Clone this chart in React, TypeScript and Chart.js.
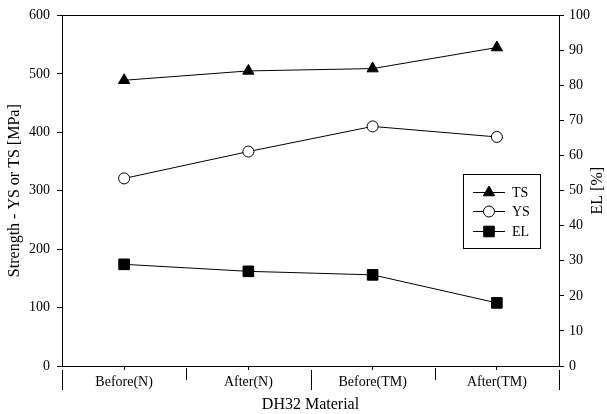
import React, { useEffect, useRef } from 'react';
import { Chart, registerables } from 'chart.js';

Chart.register(...registerables);

const categories = ['Before(N)', 'After(N)', 'Before(TM)', 'After(TM)'];
const tsValues = [489, 505, 509, 545];
const ysValues = [321, 367, 410, 392];
const elValues = [29, 27, 26, 18];
const seriesNames = ['TS', 'YS', 'EL'];
const leftRange = [0, 600, 100];
const rightRange = [0, 100, 10];
const xTitle = 'DH32 Material';
const yTitle = 'Strength - YS or TS [MPa]';
const y1Title = 'EL [%]';

const FONT = "'Liberation Serif', 'Times New Roman', serif";

function drawMarker(ctx: CanvasRenderingContext2D, style: string, x: number, y: number, r: number) {
  ctx.beginPath();
  if (style === 'triangle') {
    const w = r * Math.sin(Math.PI / 3);
    ctx.moveTo(x, y - r);
    ctx.lineTo(x + w, y + r / 2);
    ctx.lineTo(x - w, y + r / 2);
    ctx.closePath();
    ctx.fillStyle = '#000';
    ctx.fill();
    ctx.stroke();
  } else if (style === 'circle') {
    ctx.arc(x, y, r, 0, Math.PI * 2);
    ctx.fillStyle = '#fff';
    ctx.fill();
    ctx.stroke();
  } else {
    const s = r * Math.SQRT1_2;
    ctx.rect(x - s, y - s, 2 * s, 2 * s);
    ctx.fillStyle = '#000';
    ctx.fill();
    ctx.stroke();
  }
}

const decorPlugin = {
  id: 'decor',
  afterDraw(chart: any) {
    const { ctx, chartArea: a, scales } = chart;
    const xs = scales.x;
    ctx.save();
    ctx.strokeStyle = '#000';
    ctx.lineWidth = 1;
    // top frame line
    ctx.beginPath();
    ctx.moveTo(a.left, Math.round(a.top) + 0.5);
    ctx.lineTo(a.right, Math.round(a.top) + 0.5);
    ctx.stroke();
    // category separators below the axis
    for (let i = 0; i <= categories.length; i++) {
      const px = Math.round(xs.getPixelForValue(i - 0.5)) + 0.5;
      const long = i % 2 === 0;
      ctx.beginPath();
      ctx.moveTo(px, a.bottom + (long ? 4 : 2));
      ctx.lineTo(px, a.bottom + (long ? 24 : 14));
      ctx.stroke();
    }
    // right axis title (reads bottom to top)
    ctx.fillStyle = '#000';
    ctx.font = `16px ${FONT}`;
    ctx.textAlign = 'center';
    ctx.textBaseline = 'middle';
    ctx.save();
    ctx.translate(598, (a.top + a.bottom) / 2);
    ctx.rotate(-Math.PI / 2);
    ctx.fillText(y1Title, 0, 0);
    ctx.restore();
    // legend
    const bx = 463.5, by = 174.5, bw = 77, bh = 74;
    ctx.strokeRect(bx, by, bw, bh);
    const styles = ['triangle', 'circle', 'rect'];
    const radii = [6.5, 5.5, 7.5];
    const rows = [192, 211, 231];
    ctx.font = `14px ${FONT}`;
    ctx.textAlign = 'left';
    for (let k = 0; k < seriesNames.length; k++) {
      const y = rows[k] + 0.5;
      ctx.beginPath();
      ctx.moveTo(473, y);
      ctx.lineTo(505, y);
      ctx.stroke();
      drawMarker(ctx, styles[k], 489, y, radii[k]);
      ctx.fillStyle = '#000';
      ctx.fillText(seriesNames[k], 512, rows[k] + 1);
    }
    ctx.restore();
  },
};

export default function App() {
  const ref = useRef<HTMLCanvasElement | null>(null);

  useEffect(() => {
    if (!ref.current) return;
    const font = (size: number) => ({ family: FONT, size });
    const chart = new Chart(ref.current, {
      type: 'line',
      data: {
        labels: categories,
        datasets: [
          {
            label: seriesNames[0],
            data: tsValues,
            yAxisID: 'y',
            borderColor: '#000',
            borderWidth: 1,
            backgroundColor: '#000',
            pointStyle: 'triangle',
            pointRadius: 6.5,
            pointBackgroundColor: '#000',
            pointBorderColor: '#000',
            pointBorderWidth: 1,
            tension: 0,
          },
          {
            label: seriesNames[1],
            data: ysValues,
            yAxisID: 'y',
            borderColor: '#000',
            borderWidth: 1,
            backgroundColor: '#fff',
            pointStyle: 'circle',
            pointRadius: 5.5,
            pointBackgroundColor: '#fff',
            pointBorderColor: '#000',
            pointBorderWidth: 1,
            tension: 0,
          },
          {
            label: seriesNames[2],
            data: elValues,
            yAxisID: 'y1',
            borderColor: '#000',
            borderWidth: 1,
            backgroundColor: '#000',
            pointStyle: 'rect',
            pointRadius: 7.5,
            pointBackgroundColor: '#000',
            pointBorderColor: '#000',
            pointBorderWidth: 1,
            tension: 0,
          },
        ],
      },
      options: {
        animation: false,
        responsive: true,
        maintainAspectRatio: false,
        layout: { padding: { top: 12, left: 0, right: 0, bottom: 0 } },
        plugins: { legend: { display: false }, tooltip: { enabled: false } },
        scales: {
          x: {
            type: 'category',
            offset: true,
            grid: { display: true, drawOnChartArea: false, drawTicks: true, tickLength: 4, color: '#000', offset: false },
            border: { display: true, color: '#000', width: 1 },
            ticks: { color: '#000', font: font(14), padding: 4, maxRotation: 0, autoSkip: false },
            title: { display: true, text: xTitle, color: '#000', font: font(16), padding: { top: 0, bottom: 0 } },
            afterFit: (s: any) => { s.height = 48; },
          },
          y: {
            position: 'left',
            min: leftRange[0],
            max: leftRange[1],
            ticks: { stepSize: leftRange[2], color: '#000', font: font(14), padding: 7 },
            grid: { display: true, drawOnChartArea: false, drawTicks: true, tickLength: 5, color: '#000' },
            border: { display: true, color: '#000', width: 1 },
            title: { display: true, text: yTitle, color: '#000', font: font(16), padding: { top: 5, bottom: 0 } },
            afterFit: (s: any) => { s.width = 62; },
          },
          y1: {
            position: 'right',
            min: rightRange[0],
            max: rightRange[1],
            ticks: { stepSize: rightRange[2], color: '#000', font: font(14), padding: 5 },
            grid: { display: true, drawOnChartArea: false, drawTicks: true, tickLength: 5, color: '#000' },
            border: { display: true, color: '#000', width: 1 },
            afterFit: (s: any) => { s.width = 48; },
          },
        },
      },
      plugins: [decorPlugin],
    });
    return () => chart.destroy();
  }, []);

  return (
    <div style={{ position: 'fixed', left: 0, top: 0, width: 607, height: 414, background: '#fff' }}>
      <canvas ref={ref} />
    </div>
  );
}
